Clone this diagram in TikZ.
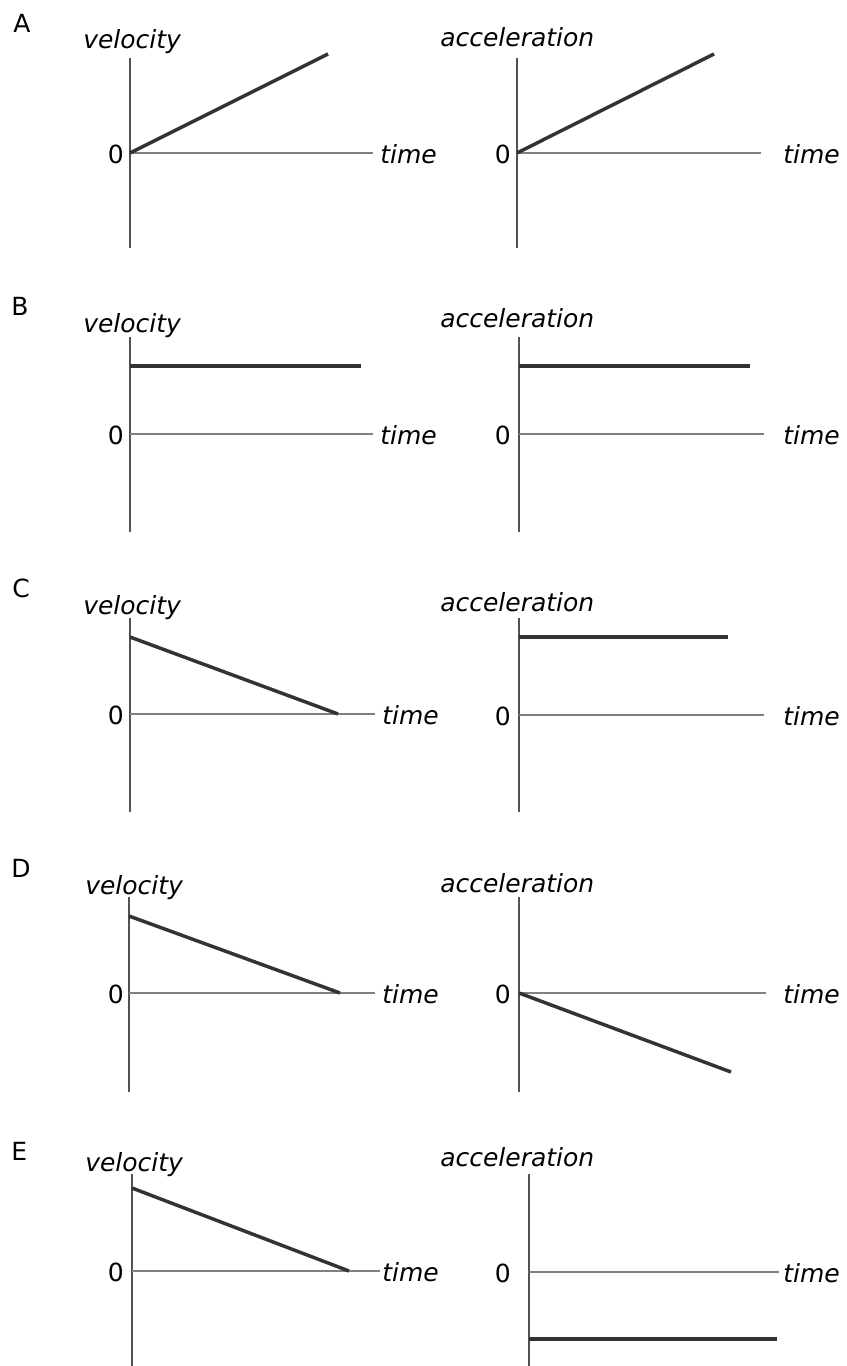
\documentclass[tikz,border=0pt]{standalone}
\usepackage{fontspec}
\setmainfont{DejaVu Sans}
\begin{document}
\begin{tikzpicture}[x=0.75pt,y=-0.75pt]
\tikzset{
 lab/.style={inner sep=0pt, font=\fontsize{18.75}{22}\selectfont},
 ilab/.style={inner sep=0pt, font=\fontsize{18.75}{22}\selectfont\itshape},
 vaxis/.style={draw=black!68, line width=1.7pt},
 haxis/.style={draw=black!50, line width=2.1pt},
 curve/.style={draw=black!80, line width=2.6pt},
}
\fill[white] (0,0) rectangle (846,1366);
\useasboundingbox (0,0) rectangle (846,1366);

% ---------- A ----------
\node[lab, anchor=base west] (LA) at (13,33) {A};
\node[ilab, anchor=base west] (vA) at (83,49) {velocity};
\node[ilab, anchor=base west] (aA) at (440,47) {acceleration};
\coordinate (lAt) at (130,58); \coordinate (lAb) at (130,248);
\coordinate (lAo) at (130,153); \coordinate (lAx) at (373,153);
\coordinate (lAe) at (328,54);
\node[lab, anchor=base east] (zlA) at (124,163) {0};
\node[ilab, anchor=base west] (tlA) at (380,163) {time};
\draw[vaxis] (lAt) -- (lAb);
\draw[haxis] (lAo) -- (lAx);
\draw[curve] (lAo) -- (lAe);
\coordinate (rAt) at (517,58); \coordinate (rAb) at (517,248);
\coordinate (rAo) at (517,153); \coordinate (rAx) at (761,153);
\coordinate (rAe) at (714,54);
\node[lab, anchor=base east] (zrA) at (511,163) {0};
\node[ilab, anchor=base west] (trA) at (783,163) {time};
\draw[vaxis] (rAt) -- (rAb);
\draw[haxis] (rAo) -- (rAx);
\draw[curve] (rAo) -- (rAe);

% ---------- B ----------
\node[lab, anchor=base west] (LB) at (11,315) {B};
\node[ilab, anchor=base west] (vB) at (83,332) {velocity};
\node[ilab, anchor=base west] (aB) at (440,327) {acceleration};
\coordinate (lBt) at (130,337); \coordinate (lBb) at (130,532);
\coordinate (lBo) at (130,434); \coordinate (lBx) at (373,434);
\coordinate (lBs) at (130,366); \coordinate (lBe) at (361,366);
\node[lab, anchor=base east] (zlB) at (124,444) {0};
\node[ilab, anchor=base west] (tlB) at (380,444) {time};
\draw[vaxis] (lBt) -- (lBb);
\draw[haxis] (lBo) -- (lBx);
\draw[curve] (lBs) -- (lBe);
\coordinate (rBt) at (519,337); \coordinate (rBb) at (519,532);
\coordinate (rBo) at (519,434); \coordinate (rBx) at (764,434);
\coordinate (rBs) at (519,366); \coordinate (rBe) at (750,366);
\node[lab, anchor=base east] (zrB) at (511,444) {0};
\node[ilab, anchor=base west] (trB) at (783,444) {time};
\draw[vaxis] (rBt) -- (rBb);
\draw[haxis] (rBo) -- (rBx);
\draw[curve] (rBs) -- (rBe);

% ---------- C ----------
\node[lab, anchor=base west] (LC) at (12,597) {C};
\node[ilab, anchor=base west] (vC) at (83,614) {velocity};
\node[ilab, anchor=base west] (aC) at (440,611) {acceleration};
\coordinate (lCt) at (130,618); \coordinate (lCb) at (130,812);
\coordinate (lCo) at (130,714); \coordinate (lCx) at (375,714);
\coordinate (lCs) at (130,637); \coordinate (lCe) at (338,714);
\node[lab, anchor=base east] (zlC) at (124,724) {0};
\node[ilab, anchor=base west] (tlC) at (382,724) {time};
\draw[vaxis] (lCt) -- (lCb);
\draw[haxis] (lCo) -- (lCx);
\draw[curve] (lCs) -- (lCe);
\coordinate (rCt) at (519,618); \coordinate (rCb) at (519,812);
\coordinate (rCo) at (519,715); \coordinate (rCx) at (764,715);
\coordinate (rCs) at (519,637); \coordinate (rCe) at (728,637);
\node[lab, anchor=base east] (zrC) at (511,725) {0};
\node[ilab, anchor=base west] (trC) at (783,725) {time};
\draw[vaxis] (rCt) -- (rCb);
\draw[haxis] (rCo) -- (rCx);
\draw[curve] (rCs) -- (rCe);

% ---------- D ----------
\node[lab, anchor=base west] (LD) at (11,877) {D};
\node[ilab, anchor=base west] (vD) at (85,894) {velocity};
\node[ilab, anchor=base west] (aD) at (440,892) {acceleration};
\coordinate (lDt) at (129,897); \coordinate (lDb) at (129,1092);
\coordinate (lDo) at (129,993); \coordinate (lDx) at (375,993);
\coordinate (lDs) at (129,916); \coordinate (lDe) at (340,993);
\node[lab, anchor=base east] (zlD) at (124,1003) {0};
\node[ilab, anchor=base west] (tlD) at (382,1003) {time};
\draw[vaxis] (lDt) -- (lDb);
\draw[haxis] (lDo) -- (lDx);
\draw[curve] (lDs) -- (lDe);
\coordinate (rDt) at (519,897); \coordinate (rDb) at (519,1092);
\coordinate (rDo) at (519,993); \coordinate (rDx) at (766,993);
\coordinate (rDe) at (731,1072);
\node[lab, anchor=base east] (zrD) at (511,1003) {0};
\node[ilab, anchor=base west] (trD) at (783,1003) {time};
\draw[vaxis] (rDt) -- (rDb);
\draw[haxis] (rDo) -- (rDx);
\draw[curve] (rDo) -- (rDe);

% ---------- E ----------
\node[lab, anchor=base west] (LE) at (11,1160) {E};
\node[ilab, anchor=base west] (vE) at (85,1171) {velocity};
\node[ilab, anchor=base west] (aE) at (440,1166) {acceleration};
\coordinate (lEt) at (132,1174); \coordinate (lEb) at (132,1366);
\coordinate (lEo) at (132,1271); \coordinate (lEx) at (380,1271);
\coordinate (lEs) at (132,1188); \coordinate (lEe) at (349,1271);
\node[lab, anchor=base east] (zlE) at (124,1281) {0};
\node[ilab, anchor=base west] (tlE) at (382,1281) {time};
\draw[vaxis] (lEt) -- (lEb);
\draw[haxis] (lEo) -- (lEx);
\draw[curve] (lEs) -- (lEe);
\coordinate (rEt) at (529,1174); \coordinate (rEb) at (529,1366);
\coordinate (rEo) at (529,1272); \coordinate (rEx) at (779,1272);
\coordinate (rEs) at (529,1339); \coordinate (rEe) at (777,1339);
\node[lab, anchor=base east] (zrE) at (511,1282) {0};
\node[ilab, anchor=base west] (trE) at (783,1282) {time};
\draw[vaxis] (rEt) -- (rEb);
\draw[haxis] (rEo) -- (rEx);
\draw[curve] (rEs) -- (rEe);
\end{tikzpicture}
\end{document}
